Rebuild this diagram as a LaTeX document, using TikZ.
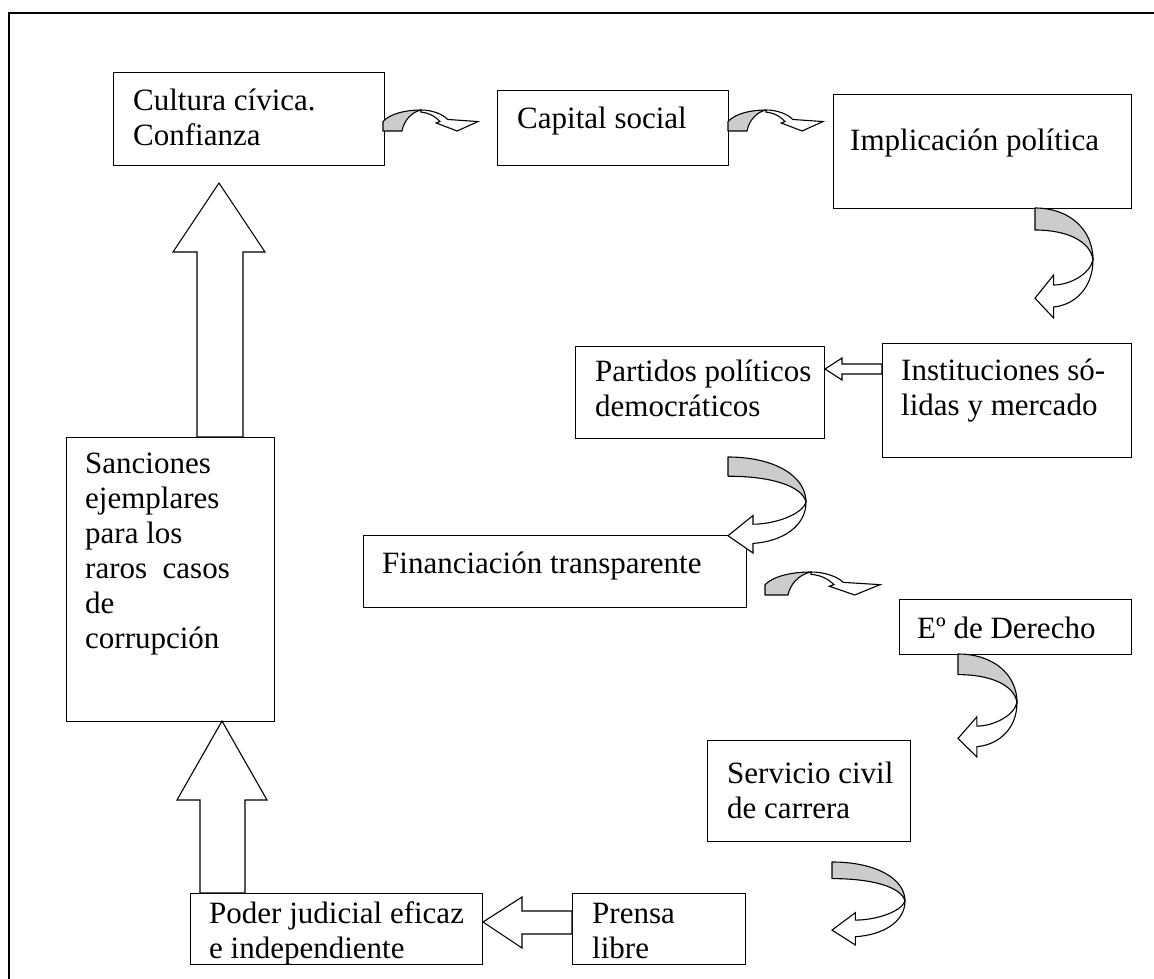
\documentclass[tikz,border=0pt]{standalone}
\usepackage{fontspec}
\setmainfont{Liberation Serif}
\usetikzlibrary{calc}
\newcommand\tbox[8]{%
  \node[box, minimum width={(#4-#2)*1pt}, minimum height={(#5-#3)*1pt}] (#1) at (#2,#3) {};
  \node[txt] (#1-t) at (#6,#7-24.5) {\strut #8};}
\newcommand\harrow[4]{%
  \pgfmathsetmacro\aw{#3-#1}\pgfmathsetmacro\ah{#4-#2}%
  \begin{scope}[shift={(#1,#2)},xscale=\aw,yscale=\ah]
    \draw[wband] (0.4,0) .. controls (0.52,0) and (0.63,0.2) .. (0.68,0.45) -- (1,0.55) -- (0.78,1) -- (0.56,0.62) -- (0.6,0.55) .. controls (0.56,0.35) and (0.5,0.15) .. (0.4,0.1) -- cycle;
    \draw[gband] (0,0.55) .. controls (0.08,0.15) and (0.25,0) .. (0.4,0) .. controls (0.3,0.1) and (0.22,0.5) .. (0.2,1) -- (0,1) -- cycle;
  \end{scope}}
\newcommand\varrow[4]{%
  \pgfmathsetmacro\aw{#3-#1}\pgfmathsetmacro\ah{#4-#2}%
  \begin{scope}[shift={(#1,#2)},xscale=\aw,yscale=\ah]
    \draw[gband] (0,0) .. controls (0.6,0) and (1,0.2) .. (1,0.47) .. controls (0.95,0.3) and (0.55,0.2) .. (0,0.2) -- cycle;
    \draw[wband] (1,0.47) .. controls (1,0.72) and (0.7,0.88) .. (0.32,0.9) -- (0.32,1) -- (0,0.82) -- (0.32,0.61) -- (0.32,0.7) .. controls (0.6,0.7) and (0.95,0.6) .. (1,0.47) -- cycle;
  \end{scope}}
\begin{document}
\begin{tikzpicture}[x=1pt,y=-1pt,
  box/.style={draw, line width=1.1pt, inner sep=0pt, anchor=north west},
  txt/.style={inner sep=0pt, anchor=north west, align=left, font=\fontsize{31}{35}\selectfont},
  gband/.style={fill=black!20, draw, line width=1.1pt, line join=round},
  wband/.style={fill=white, draw, line width=1.1pt, line join=miter},
  barrow/.style={fill=white, draw, line width=1.1pt}]
\useasboundingbox (0,0) rectangle (1154,979);
\draw[line width=2pt] (9,979) -- (9,13) -- (1154,13);

\tbox{cultura}{113}{72}{384}{165}{133}{110}{Cultura cívica.\\Confianza}
\tbox{capital}{497}{90}{728}{165}{517}{128}{Capital social}
\tbox{implic}{833}{94}{1131}{208}{850}{150}{Implicación política}
\tbox{partidos}{575}{346}{824}{438}{595}{381}{Partidos políticos\\democráticos}
\tbox{instit}{882}{343}{1131}{457}{901}{380}{Instituciones só-\\lidas y mercado}
\tbox{financ}{363}{535}{746}{607}{382}{573}{Financiación transparente}
\tbox{eder}{899}{599}{1131}{654}{917}{638}{Eº de Derecho}
\tbox{servicio}{707}{740}{910}{841}{727}{783}{Servicio civil\\de carrera}
\tbox{prensa}{572}{893}{745}{964}{592}{923}{Prensa\\libre}
\tbox{poder}{190}{893}{482}{964}{209}{923}{Poder judicial eficaz\\e independiente}
\tbox{sanciones}{66}{437}{274}{721}{85}{473}{Sanciones\\ejemplares\\para los\\raros\ \ casos\\de\\corrupción}

% block arrows
\draw[barrow] (197,437) -- (197,252) -- (173,252) -- (219,183) -- (265,252) -- (243,252) -- (243,437) -- cycle;
\draw[barrow] (200,893) -- (200,800) -- (177,800) -- (222,721) -- (267,800) -- (245,800) -- (245,893) -- cycle;
\draw[barrow] (882,364) -- (842,364) -- (842,358) -- (825,369) -- (842,380) -- (842,374) -- (882,374) -- cycle;
\draw[barrow] (572,911) -- (522,911) -- (522,897) -- (483,922) -- (522,948) -- (522,934) -- (572,934) -- cycle;

% curved arrows
\harrow{383}{110}{478}{131}
\harrow{728}{110}{823}{131}
\varrow{1035}{208}{1093}{318}
\varrow{728}{457}{806}{553}
\harrow{765}{572}{880}{595}
\varrow{958}{654}{1017}{757}
\varrow{832}{862}{905}{945}
\end{tikzpicture}
\end{document}
